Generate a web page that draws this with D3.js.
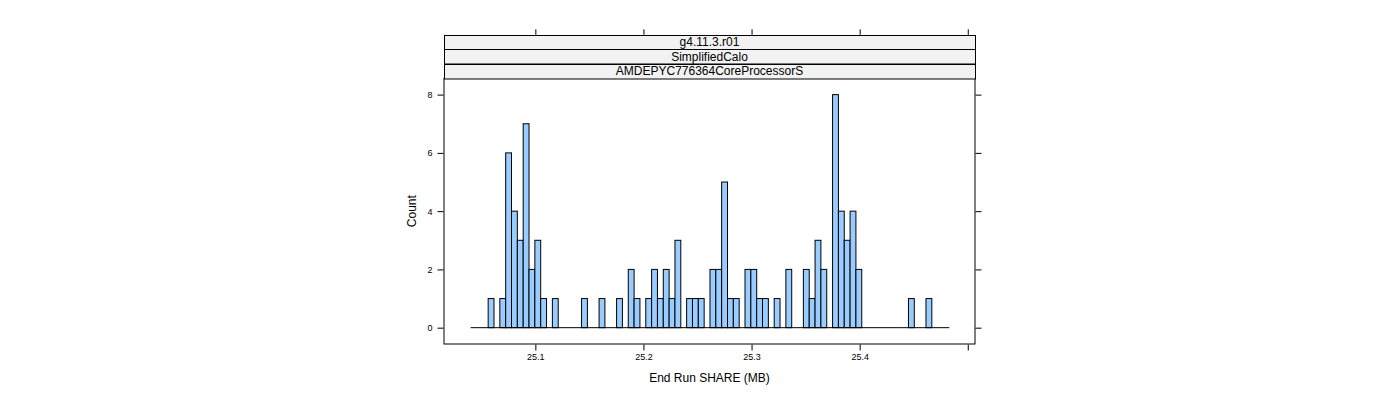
<!DOCTYPE html>
<html>
<head>
<meta charset="utf-8">
<script src="https://cdn.jsdelivr.net/npm/d3@7"></script>
<style>
  html, body { margin: 0; padding: 0; background: #fff; }
  svg { display: block; font-family: "Liberation Sans", Arial, Helvetica, sans-serif; }
</style>
</head>
<body>
<svg id="chart" width="1400" height="400"></svg>
<script>
// ---- data ----
const stripLabels = ["g4.11.3.r01", "SimplifiedCalo", "AMDEPYC776364CoreProcessorS"];
const breakStart = 25.04015;   // first histogram break (MB)
const breakWidth = 0.0054;     // bin width (MB)
const counts = [
  0, 0, 0, 1, 0, 1, 6, 4, 3, 7,
  2, 3, 1, 0, 1, 0, 0, 0, 0, 1,
  0, 0, 1, 0, 0, 1, 0, 2, 1, 0,
  1, 2, 1, 2, 1, 3, 0, 1, 1, 1,
  0, 2, 2, 5, 1, 1, 0, 2, 2, 1,
  1, 0, 1, 0, 2, 0, 0, 2, 1, 3,
  2, 0, 8, 4, 3, 4, 2, 0, 0, 0,
  0, 0, 0, 0, 0, 1, 0, 0, 1, 0,
  0, 0
];
const xTicks = [25.1, 25.2, 25.3, 25.4, 25.5];
const xTickLabels = ["25.1", "25.2", "25.3", "25.4", ""];
const yTicks = [0, 2, 4, 6, 8];
const xLim = [25.0155, 25.5067];
const yLim = [-0.56, 8.56];
const xTitle = "End Run SHARE (MB)";
const yTitle = "Count";

// ---- layout ----
const P = { left: 444, right: 975, top: 78.3, bottom: 344 };
const stripH = 14.5;

const svg = d3.select("#chart");
const x = d3.scaleLinear().domain(xLim).range([P.left, P.right]);
const y = d3.scaleLinear().domain(yLim).range([P.bottom, P.top]);

const bins = counts.map((c, i) => ({
  x0: breakStart + i * breakWidth,
  x1: breakStart + (i + 1) * breakWidth,
  count: c
}));

// bars
svg.append("g").selectAll("rect").data(bins).join("rect")
  .attr("x", d => x(d.x0))
  .attr("width", d => x(d.x1) - x(d.x0))
  .attr("y", d => y(d.count))
  .attr("height", d => y(0) - y(d.count))
  .attr("fill", "#99ccff")
  .attr("stroke", "#000")
  .attr("stroke-width", 1);

// zero baseline across all breaks (zero-height bins)
svg.append("line")
  .attr("x1", x(bins[0].x0)).attr("x2", x(bins[bins.length - 1].x1))
  .attr("y1", y(0)).attr("y2", y(0))
  .attr("stroke", "#000").attr("stroke-width", 1);

// panel border
svg.append("rect")
  .attr("x", P.left).attr("y", P.top)
  .attr("width", P.right - P.left).attr("height", P.bottom - P.top)
  .attr("fill", "none").attr("stroke", "#000").attr("stroke-width", 1);

// strips
const stripTop = P.top - stripH * stripLabels.length;
stripLabels.forEach((lab, i) => {
  const yy = stripTop + i * stripH;
  svg.append("rect")
    .attr("x", P.left + 0.5).attr("y", Math.round(yy) + 0.5)
    .attr("width", P.right - P.left).attr("height", stripH)
    .attr("fill", "#f2f2f2").attr("stroke", "#000").attr("stroke-width", 1);
  svg.append("text")
    .attr("x", (P.left + P.right) / 2).attr("y", yy + stripH / 2 + 4.3)
    .attr("text-anchor", "middle").attr("font-size", 12).attr("fill", "#000")
    .text(lab);
});

// bottom axis
const bottomAxis = d3.axisBottom(x).tickValues(xTicks)
  .tickFormat((d, i) => xTickLabels[i]).tickSize(6).tickPadding(3);
const gb = svg.append("g").attr("transform", `translate(0,${P.bottom + 0.5})`).call(bottomAxis);
gb.select(".domain").remove();
gb.selectAll("text").attr("font-size", 9).attr("font-family", "Liberation Sans, Arial, sans-serif").attr("fill", "#000");

// top axis (ticks only)
const topAxis = d3.axisTop(x).tickValues(xTicks).tickFormat("").tickSize(5.5);
const gt = svg.append("g").attr("transform", `translate(0,${stripTop})`).call(topAxis);
gt.select(".domain").remove();

// left axis
const leftAxis = d3.axisLeft(y).tickValues(yTicks).tickFormat(d3.format("d")).tickSize(6).tickPadding(5);
const gl = svg.append("g").attr("transform", `translate(${P.left - 0.5},0)`).call(leftAxis);
gl.select(".domain").remove();
gl.selectAll("text").attr("font-size", 9).attr("font-family", "Liberation Sans, Arial, sans-serif").attr("fill", "#000");

// right axis (ticks only)
const rightAxis = d3.axisRight(y).tickValues(yTicks).tickFormat("").tickSize(6);
const gr = svg.append("g").attr("transform", `translate(${P.right + 0.5},0)`).call(rightAxis);
gr.select(".domain").remove();

// axis titles
svg.append("text")
  .attr("x", (P.left + P.right) / 2).attr("y", 382)
  .attr("text-anchor", "middle").attr("font-size", 12).attr("fill", "#000")
  .text(xTitle);
svg.append("text")
  .attr("transform", `translate(416,${(P.top + P.bottom) / 2}) rotate(-90)`)
  .attr("text-anchor", "middle").attr("font-size", 12).attr("fill", "#000")
  .text(yTitle);
</script>
</body>
</html>
